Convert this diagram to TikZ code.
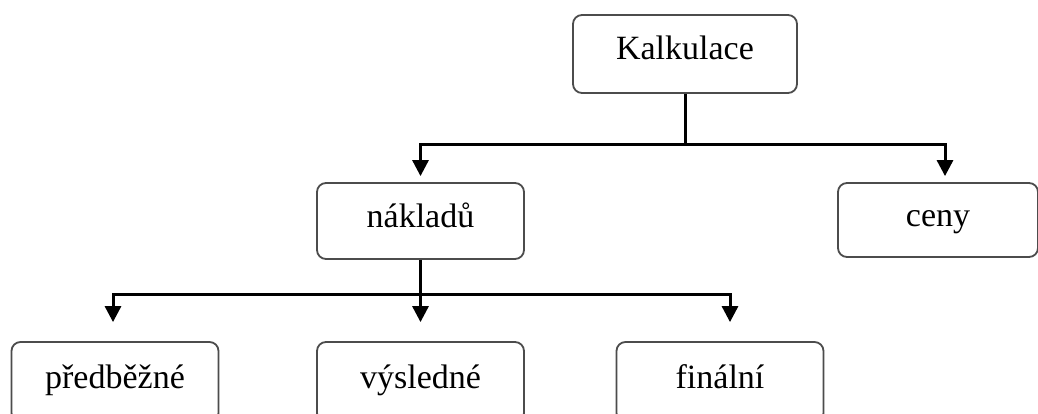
\documentclass[tikz,border=0pt]{standalone}
\usepackage{fontspec}
\setmainfont{Liberation Serif}
\usetikzlibrary{arrows.meta}
\begin{document}
\begin{tikzpicture}[x=1pt,y=-1pt,
  box/.style={draw=black!70,line width=1.8pt,rounded corners=9pt,fill=white,
    minimum width=207pt,minimum height=76pt,inner sep=0pt,
    text height=20pt,text depth=8pt,
    font=\fontsize{34}{40}\selectfont},
  low/.style={minimum height=80pt},
  conn/.style={line width=3pt,line cap=butt},
  arr/.style={conn,-{Triangle[length=16pt,width=16pt]}}]
\useasboundingbox (0,0) rectangle (1038,414);
\clip (0,0) rectangle (1038,414);
\fill[white] (0,0) rectangle (1038,414);
\node[box,minimum width=224pt,minimum height=78pt] (kal) at (685,54) {Kalkulace};
\node[box] (nak) at (420.5,221) {nákladů};
\node[box,minimum width=200pt,minimum height=74pt] (ceny) at (938,220) {ceny};
\node[box,low] (pred) at (115,382) {předběžné};
\node[box,low] (vys) at (420.5,382) {výsledné};
\node[box,low] (fin) at (720,382) {finální};
\coordinate (h1) at (0,145);
\coordinate (h2) at (0,294);
\draw[conn] (kal.south) -- (kal.south |- h1);
\draw[arr,shorten >=6pt] (kal.south |- h1) -| (nak.north);
\draw[arr,shorten >=6pt] (kal.south |- h1) -| ([xshift=7pt]ceny.north);
\draw[arr,shorten >=19pt] (nak.south) -- (vys.north);
\draw[arr,shorten >=19pt] (nak.south |- h2) -| ([xshift=-2pt]pred.north);
\draw[arr,shorten >=19pt] (nak.south |- h2) -| ([xshift=10pt]fin.north);
\end{tikzpicture}
\end{document}
